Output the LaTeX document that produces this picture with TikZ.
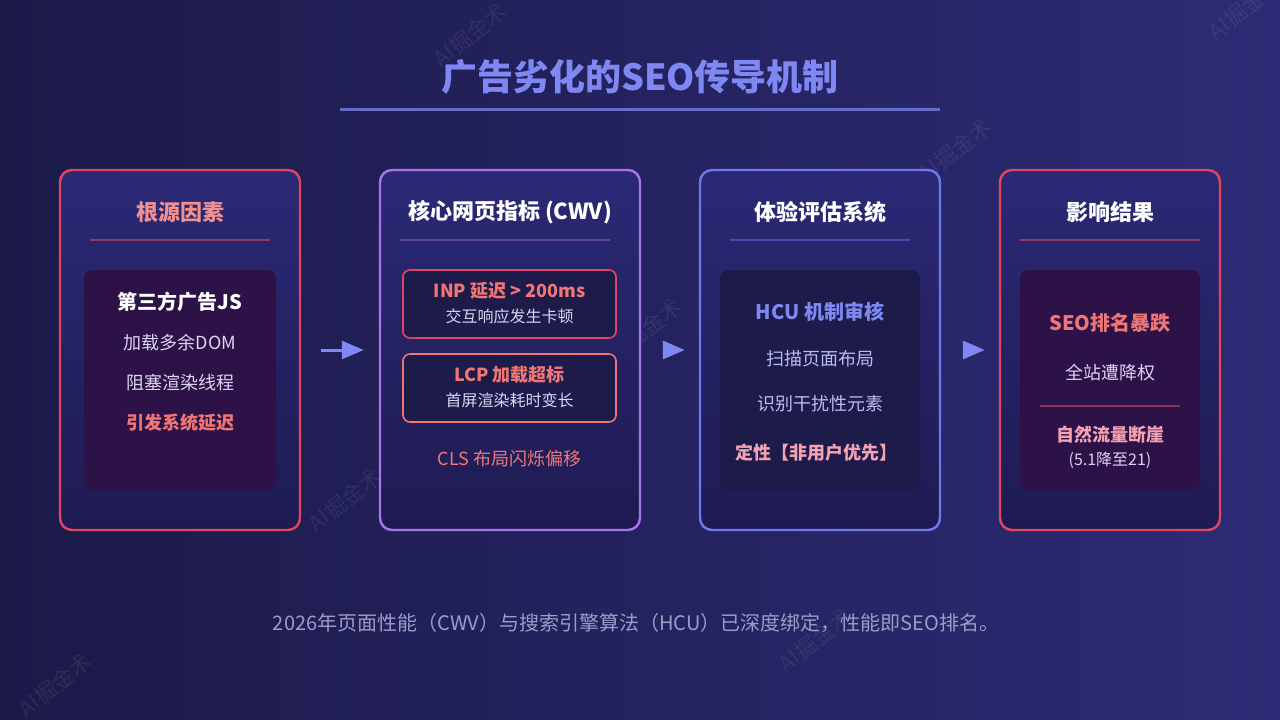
\documentclass[tikz,border=0pt]{standalone}
\usepackage{fontspec}
\setmainfont{Noto Sans CJK SC}
\usetikzlibrary{arrows.meta}

\definecolor{bgL}{HTML}{1C1A49}
\definecolor{bgR}{HTML}{2C2B75}
\definecolor{boxT}{HTML}{2B2976}
\definecolor{boxB}{HTML}{1E1B52}
\definecolor{redB}{HTML}{E0475F}
\definecolor{purB}{HTML}{A874EC}
\definecolor{bluB}{HTML}{7078EE}
\definecolor{salm}{HTML}{F07676}
\definecolor{pinkT}{HTML}{F4A2B2}
\definecolor{headC}{HTML}{F29090}
\definecolor{mainC}{HTML}{7F88F2}
\definecolor{panP}{HTML}{2D1248}
\definecolor{panB}{HTML}{1D1B4A}
\definecolor{lav}{HTML}{DCD4F2}
\definecolor{lavB}{HTML}{B9BBF2}
\definecolor{footC}{HTML}{9C9CC8}

\begin{document}
\begin{tikzpicture}[x=1pt,y=-1pt,
  card/.style={draw=#1,line width=2.4pt,rounded corners=12pt,top color=boxT,bottom color=boxB,
    minimum height=360pt,inner sep=0pt},
  panel/.style={fill=#1,rounded corners=8pt,minimum height=220pt,inner sep=0pt},
  metric/.style={draw=#1,line width=1.6pt,fill=panB,rounded corners=7pt,
    minimum width=213pt,minimum height=68pt,inner sep=0pt},
  head/.style={font=\bfseries\fontsize{22}{26}\selectfont,text=#1},
  big/.style={font=\bfseries\fontsize{20}{24}\selectfont,text=#1},
  mtitle/.style={font=\bfseries\fontsize{18}{22}\selectfont,text=#1},
  txt/.style={font=\fontsize{18}{22}\selectfont,text=#1},
  small/.style={font=\fontsize{16}{19}\selectfont,text=#1},
  flow/.style={-{Triangle[length=22pt,width=18pt]},line width=3pt,draw=mainC,fill=mainC},
  wmark/.style={font=\fontsize{22}{26}\selectfont,text=white,opacity=0.07,rotate=38}]

  % background
  \useasboundingbox (0,0) rectangle (1280,720);
  \clip (0,0) rectangle (1280,720);
  \fill[left color=bgL,right color=bgR] (0,0) rectangle (1280,720);
  \foreach \wx/\wy in {470/35, 1245/8, 165/200, 955/150, 645/330, 345/500, 1130/445, 815/640, 55/685}
    \node[wmark] at (\wx,\wy) {AI掘金术};

  % title
  \node[font=\bfseries\fontsize{36}{42}\selectfont,text=mainC] (title) at (640,77) {广告劣化的SEO传导机制};
  \draw[line width=3pt,draw=mainC!75!bgL] (340,109) -- (940,109);

  % cards
  \node[card=redB,minimum width=240pt] (c1) at (180,350) {};
  \node[card=purB,minimum width=260pt] (c2) at (510,350) {};
  \node[card=bluB,minimum width=240pt] (c3) at (820,350) {};
  \node[card=redB,minimum width=220pt] (c4) at (1110,350) {};

  \node[head=headC] (h1) at (180,212) {根源因素};
  \node[head=white] (h2) at (510,212) {核心网页指标 (CWV)};
  \node[head=white] (h3) at (820,212) {体验评估系统};
  \node[head=white] (h4) at (1110,212) {影响结果};
  \draw[line width=1.5pt,draw=redB!55!boxT] (90,240) -- (270,240);
  \draw[line width=1.5pt,draw=purB!40!boxT] (400,240) -- (610,240);
  \draw[line width=1.5pt,draw=bluB!45!boxT] (730,240) -- (910,240);
  \draw[line width=1.5pt,draw=redB!55!boxT] (1020,240) -- (1200,240);

  % root causes
  \node[panel=panP,minimum width=192pt] (p1) at (180,380) {};
  \node[big=white] (js) at (180,302) {第三方广告JS};
  \node[txt=lav] (dom) at (180,343) {加载多余DOM};
  \node[txt=lav] (blk) at (180,383) {阻塞渲染线程};
  \node[mtitle=salm] (lag) at (180,423) {引发系统延迟};

  % CWV
  \node[metric=redB] (inp) at (509.5,304) {};
  \node[mtitle=salm] (inpT) at (509.5,291) {INP 延迟 > 200ms};
  \node[small=lav] (inpS) at (509.5,316) {交互响应发生卡顿};
  \node[metric=salm] (lcp) at (509.5,388) {};
  \node[mtitle=salm] (lcpT) at (509.5,375) {LCP 加载超标};
  \node[small=lav] (lcpS) at (509.5,400) {首屏渲染耗时变长};
  \node[txt=salm] (cls) at (509.5,459) {CLS 布局闪烁偏移};

  % HCU
  \node[panel=panB,minimum width=200pt] (p3) at (820,380) {};
  \node[big=mainC] (hcu) at (820,312) {HCU 机制审核};
  \node[txt=lavB] (scan) at (820,359) {扫描页面布局};
  \node[txt=lavB] (find) at (820,404) {识别干扰性元素};
  \node[mtitle=pinkT] (verd) at (816,453) {定性【非用户优先】};

  % results
  \node[panel=panP,minimum width=180pt] (p4) at (1110,380) {};
  \node[big=salm] (drop) at (1110,323) {SEO排名暴跌};
  \node[txt=lav] (down) at (1110,373) {全站遭降权};
  \draw[line width=1.5pt,draw=redB!55!panP] (1040,406) -- (1180,406);
  \node[mtitle=pinkT] (cliff) at (1110,435) {自然流量断崖};
  \node[small=lav] (num) at (1110,460) {(5.1降至21)};

  % flow arrows
  \draw[flow,shorten <=20pt,shorten >=15pt] (c1.east) -- (c2.west);
  \draw[flow,shorten <=22pt,shorten >=14pt] (c2.east) -- (c3.west);
  \draw[flow,shorten <=22pt,shorten >=14pt] (c3.east) -- (c4.west);

  % footer
  \node[font=\fontsize{20}{24}\selectfont,text=footC] (foot) at (636,623)
    {2026年页面性能（CWV）与搜索引擎算法（HCU）已深度绑定，性能即SEO排名。};
\end{tikzpicture}
\end{document}
